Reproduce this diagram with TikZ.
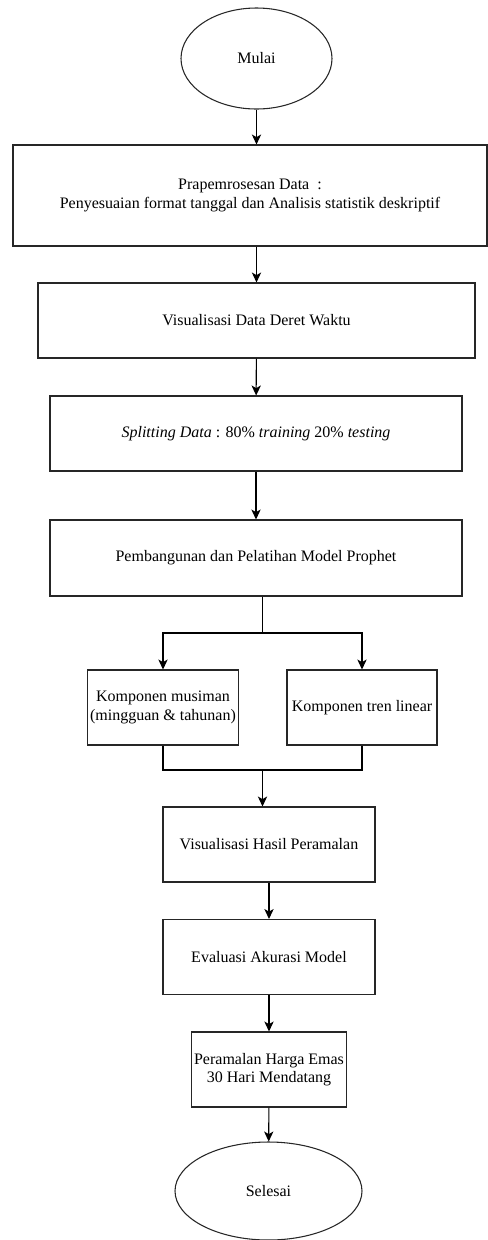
\documentclass[tikz,border=0pt]{standalone}
\usepackage{fontspec}
\setmainfont{Liberation Serif}
\usetikzlibrary{arrows.meta,shapes.geometric}
\begin{document}
\begin{tikzpicture}[x=0.75pt,y=-0.75pt,
    box/.style={draw=black!85,line width=0.8pt,rectangle,inner sep=2pt,align=center,
        minimum height=56.25pt,font=\fontsize{12}{14}\selectfont},
    oval/.style={draw=black!85,line width=0.8pt,ellipse,inner sep=0pt,
        font=\fontsize{12}{14}\selectfont},
    arr/.style={line width=0.8pt,-{Stealth[length=7.5pt,width=7pt,inset=2pt]}},
    ln/.style={line width=0.8pt}]
\useasboundingbox (0,0) rectangle (488,1240);
    \node[oval,minimum width=113.25pt,minimum height=75.75pt] (mulai) at (256.5,58.5) {Mulai};
    \node[box,minimum width=355.5pt,minimum height=75.75pt] (prapros) at (250,195.5)
        {Prapemrosesan Data~~:\\Penyesuaian format tanggal dan Analisis statistik deskriptif};
    \node[box,minimum width=327.75pt] (visdata) at (256.5,320.5) {Visualisasi Data Deret Waktu};
    \node[box,minimum width=309pt] (split) at (256,433.5)
        {\textit{Splitting Data} : 80\% \textit{training} 20\% \textit{testing}};
    \node[box,minimum width=309pt,minimum height=57pt] (bangun) at (256,558)
        {Pembangunan dan Pelatihan Model Prophet};
    \node[box,minimum width=112.5pt] (musim) at (163,707.5) {Komponen musiman\\(mingguan \& tahunan)};
    \node[box,minimum width=112.5pt] (tren) at (362,707.5) {Komponen tren linear};
    \node[box,minimum width=159pt] (vishasil) at (269,844.5) {Visualisasi Hasil Peramalan};
    \node[box,minimum width=159pt] (evaluasi) at (269,957) {Evaluasi Akurasi Model};
    \node[box,minimum width=112.5pt] (ramal) at (269,1069.5) {Peramalan Harga Emas\\30 Hari Mendatang};
    \node[oval,minimum width=140.25pt,minimum height=73.5pt] (selesai) at (268.5,1191) {Selesai};
    \coordinate (cabang) at (262.5,633);
    \coordinate (gabung) at (262.5,770);

    \draw[arr] (mulai) -- (mulai |- prapros.north);
    \draw[arr] (prapros.south -| visdata.north) -- (visdata);
    \draw[arr] (visdata) -- (split);
    \draw[arr] (split) -- (bangun);
    \draw[ln] (bangun.south -| cabang) -- (cabang);
    \draw[arr] (cabang) -| (musim);
    \draw[arr] (cabang) -| (tren);
    \draw[ln] (musim) |- (gabung) -| (tren);
    \draw[arr] (gabung) -- (gabung |- vishasil.north);
    \draw[arr] (vishasil) -- (evaluasi);
    \draw[arr] (evaluasi) -- (ramal);
    \draw[arr] (ramal) -- (selesai);
\end{tikzpicture}
\end{document}
